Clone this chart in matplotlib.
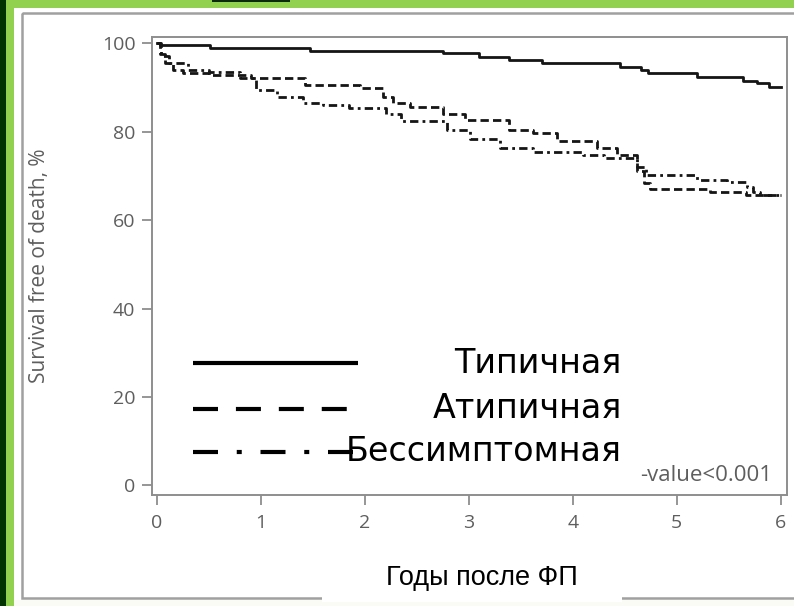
import matplotlib
matplotlib.use("Agg")
import matplotlib.pyplot as plt
from matplotlib.patches import Rectangle
from matplotlib.lines import Line2D

# ============================================================
# DATA
# ============================================================

years_typical = [0, 0.03, 0.51, 1.47, 2.75, 3.10, 3.39, 3.70, 4.45, 4.66,
                 4.72, 5.19, 5.64, 5.77, 5.89, 6.0]
surv_typical = [100, 99.5, 98.8, 98.3, 97.7, 96.9, 96.3, 95.6, 94.6, 93.9,
                93.2, 92.4, 91.4, 90.9, 90.1, 90.1]

years_atypical = [0, 0.03, 0.08, 0.15, 0.25, 0.5, 0.9, 1.42, 1.95, 2.17,
                  2.27, 2.43, 2.75, 2.96, 3.39, 3.62, 3.85, 4.23, 4.42, 4.62,
                  4.68, 4.74, 5.32, 5.67, 6.0]
surv_atypical = [100, 97.5, 95.5, 94.0, 93.2, 92.8, 92.2, 90.5, 89.9, 87.8,
                 86.4, 85.6, 84.1, 82.6, 80.3, 79.6, 77.9, 76.2, 74.7, 71.0,
                 68.5, 67.0, 66.3, 65.6, 65.6]

years_asympt = [0, 0.04, 0.12, 0.3, 0.5, 0.8, 0.95, 1.15, 1.4, 1.6, 1.85,
                2.2, 2.35, 2.79, 3.01, 3.3, 3.62, 4.1, 4.3, 4.62, 4.70, 5.19,
                5.48, 5.68, 5.73, 5.8, 6.0]
surv_asympt = [100, 97.0, 95.5, 94.0, 93.4, 92.2, 89.4, 87.9, 86.5, 86.0, 85.4,
               84.0, 82.3, 80.3, 78.3, 76.2, 75.4, 74.8, 74.0, 72.0, 70.2, 69.0,
               68.7, 67.4, 66.4, 65.6, 65.6]

labels = ["Типичная", "Атипичная", "Бессимптомная"]
x_ticks = [0, 1, 2, 3, 4, 5, 6]
y_ticks = [0, 20, 40, 60, 80, 100]

# ============================================================
# FIGURE + SLIDE BACKGROUND
# ============================================================

W, H = 794, 606
fig = plt.figure(figsize=(W / 100, H / 100), dpi=100)
fig.patch.set_facecolor("#92d050")

bg = fig.add_axes([0, 0, 1, 1])
bg.set_xlim(0, W)
bg.set_ylim(H, 0)
bg.axis("off")
bg.set_zorder(-1)

bg.add_patch(Rectangle((14, 8), W - 14, H - 8, facecolor="#fbfbf6", edgecolor="none"))
bg.add_patch(Rectangle((14, 8), W - 14, 592, facecolor="white", edgecolor="none"))
bg.add_patch(Rectangle((0, 0), 6, H, facecolor="#003300", edgecolor="none"))
bg.add_patch(Rectangle((212, 0), 78, 1.8, facecolor="#0b2a0b", edgecolor="none"))
# grey picture frame
bg.add_patch(Rectangle((21.5, 12.5), 800, 585, facecolor="none",
                       edgecolor="#a0a0a0", linewidth=1.8))
# white box under the Russian x label
bg.add_patch(Rectangle((322, 552), 300, 50, facecolor="white",
                       edgecolor="none", zorder=5))

# ============================================================
# KAPLAN-MEIER CURVES
# ============================================================

ax = fig.add_axes([152 / W, 1 - 495 / H, 635 / W, 458 / H])
ax.set_facecolor("white")

styles = [
    dict(color="#151515", linewidth=2.0, linestyle="-"),
    dict(color="#151515", linewidth=2.0, linestyle=(0, (3.0, 1.5))),
    dict(color="#151515", linewidth=2.0, linestyle=(0, (3.0, 1.5, 1.0, 1.5))),
]

for t, s, st in zip([years_typical, years_atypical, years_asympt],
                    [surv_typical, surv_atypical, surv_asympt], styles):
    ax.step(t, s, where="post", **st)

ax.set_xlim(-0.048, 6.06)
ax.set_ylim(-2.15, 101.4)
ax.set_xticks(x_ticks)
ax.set_yticks(y_ticks)

for sp in ax.spines.values():
    sp.set_color("#8e8e8e")
    sp.set_linewidth(1.4)

ax.tick_params(direction="out", length=7, width=1.3, color="#8e8e8e",
               labelcolor="#5e5e5e", labelsize=14)
ax.tick_params(axis="x", pad=7)
ax.tick_params(axis="y", pad=5)
for lab in ax.get_xticklabels() + ax.get_yticklabels():
    lab.set_fontfamily("Open Sans")

ax.set_ylabel("Survival free of death, %", fontsize=15, color="#5e5e5e",
              fontfamily="Open Sans")
ax.yaxis.set_label_coords(-0.160, 0.50)

ax.text(0.769, 0.042, "-value<0.001", transform=ax.transAxes, fontsize=16,
        color="#5e5e5e", fontfamily="Open Sans", ha="left", va="center")

# ============================================================
# PASTED LEGEND (white box, lines, right-aligned labels)
# ============================================================

ax.add_patch(Rectangle((0.0173, 0.028), 0.751, 0.32, transform=ax.transAxes,
                       facecolor="white", edgecolor="none", zorder=4))

legend_y = [0.288, 0.188, 0.094]
legend_styles = [
    dict(linestyle="-"),
    dict(linestyle=(0, (6, 4.3))),
    dict(linestyle=(0, (6, 4.5, 1.2, 4.5))),
]
for y, lab, lst in zip(legend_y, labels, legend_styles):
    ax.add_line(Line2D([0.0646, 0.324], [y, y], transform=ax.transAxes,
                       color="black", linewidth=3.0, zorder=5,
                       solid_capstyle="butt", dash_capstyle="butt", **lst))
    ax.text(0.740, y, lab, transform=ax.transAxes, fontsize=24,
            ha="right", va="center", color="black", zorder=6,
            fontfamily="DejaVu Sans")

# ============================================================
# X LABEL
# ============================================================

fig.text(482 / W, 1 - 578 / H, "Годы после ФП", fontsize=19.5,
         fontfamily="Liberation Sans", ha="center", va="center",
         color="black", zorder=10)

fig.savefig("out.png", dpi=100)
